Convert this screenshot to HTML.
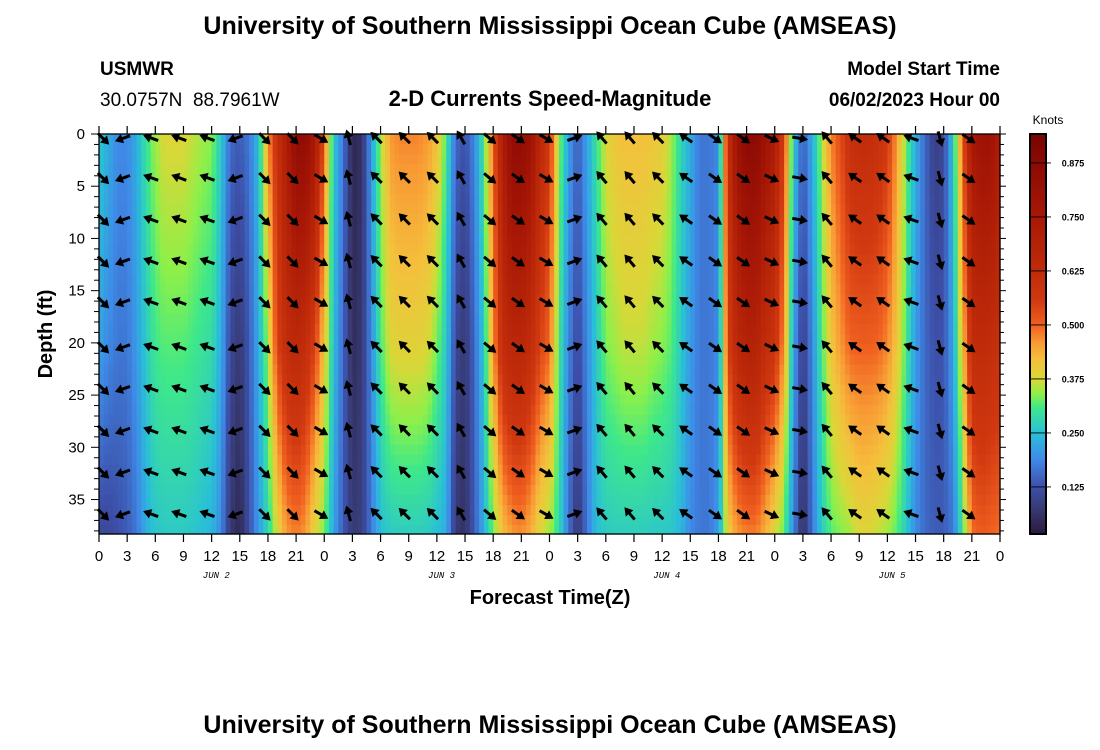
<!DOCTYPE html>
<html><head><meta charset="utf-8">
<style>
body{margin:0;background:#fff;}
svg{display:block;font-family:"Liberation Sans",sans-serif;}
</style></head>
<body>
<svg id="chart" width="1100" height="750" viewBox="0 0 1100 750">
<text x="550" y="34" text-anchor="middle" font-size="25" font-weight="bold">University of Southern Mississippi Ocean Cube (AMSEAS)</text>
<text x="100" y="75" font-size="19" font-weight="bold">USMWR</text>
<text x="100" y="106" font-size="19" xml:space="preserve">30.0757N  88.7961W</text>
<text x="550" y="106" text-anchor="middle" font-size="22" font-weight="bold">2-D Currents Speed-Magnitude</text>
<text x="1000" y="75" text-anchor="end" font-size="19" font-weight="bold">Model Start Time</text>
<text x="1000" y="106" text-anchor="end" font-size="19" font-weight="bold">06/02/2023 Hour 00</text>
<text transform="translate(52,334) rotate(-90)" text-anchor="middle" font-size="20" font-weight="bold">Depth (ft)</text>
<text x="550" y="604" text-anchor="middle" font-size="20" font-weight="bold">Forecast Time(Z)</text>
<text x="1048" y="124" text-anchor="middle" font-size="12">Knots</text>
<text x="550" y="733" text-anchor="middle" font-size="25" font-weight="bold">University of Southern Mississippi Ocean Cube (AMSEAS)</text>
<g id="heat"></g>
<g id="arrows"></g>
<g id="axes"></g>
<g id="cbar"></g>
</svg>
<script>
// hourly speed (knots), hours 0..96, at surface / 20 ft / 38 ft
const hours = Array.from({length:97},(_, i)=>i);
const depthLevels = [0, 20, 38.3];
const speedSurface = [.265,.23,.19,.19,.23,.30,.35,.38,.38,.38,.365,.35,.34,.265,.155,.14,.17,.25,.46,.60,.72,.85,.85,.75,.50,.265,.17,.04,.06,.21,.35,.46,.475,.475,.475,.46,.42,.31,.155,.125,.19,.31,.50,.72,.85,.85,.80,.65,.56,.35,.22,.14,.22,.30,.38,.41,.42,.42,.42,.41,.40,.35,.28,.23,.17,.17,.19,.60,.80,.87,.87,.80,.72,.545,.265,.14,.23,.35,.475,.53,.60,.62,.62,.60,.56,.46,.335,.23,.155,.09,.11,.265,.50,.75,.80,.80,.72];
const speedMid = [.22,.19,.17,.17,.21,.265,.31,.32,.32,.32,.31,.30,.29,.23,.11,.075,.14,.23,.35,.545,.62,.65,.62,.545,.41,.25,.155,.05,.075,.19,.31,.38,.39,.39,.39,.38,.335,.265,.11,.075,.155,.265,.46,.62,.66,.66,.62,.545,.50,.31,.19,.11,.19,.265,.335,.35,.365,.365,.365,.35,.34,.32,.265,.21,.17,.17,.19,.545,.65,.69,.69,.62,.59,.46,.22,.09,.19,.31,.41,.46,.50,.505,.505,.50,.475,.41,.31,.21,.155,.125,.13,.22,.41,.62,.635,.62,.60];
const speedBottom = [.11,.11,.125,.14,.17,.23,.26,.265,.265,.265,.26,.25,.24,.19,.075,.04,.125,.21,.28,.38,.46,.48,.46,.38,.335,.22,.14,.075,.09,.17,.25,.265,.27,.27,.27,.265,.25,.23,.075,.06,.14,.23,.33,.42,.46,.47,.44,.38,.35,.29,.17,.07,.17,.25,.265,.27,.27,.27,.27,.265,.265,.26,.24,.19,.17,.17,.21,.40,.46,.48,.48,.44,.38,.32,.19,.05,.17,.265,.32,.335,.35,.38,.38,.365,.35,.32,.265,.19,.155,.14,.14,.17,.30,.49,.51,.50,.49];
// arrow columns: hour and direction (deg, screen: 0=east/right, 90=down)
const arrowHours = [0.4,2.6,5.6,8.6,11.6,14.6,17.6,20.6,23.6,26.6,29.6,32.6,35.6,38.6,41.6,44.6,47.6,50.6,53.6,56.6,59.6,62.6,65.6,68.6,71.6,74.6,77.6,80.6,83.6,86.6,89.6,92.6];
const arrowDirs = [45,160,200,200,200,160,45,45,30,-105,-135,-135,-135,-120,40,35,30,-20,-130,-130,-135,-145,35,35,25,10,-130,-145,-145,-160,75,35];
const arrowDepths = [0.4,4.2,8.2,12.2,16.1,20.4,24.4,28.4,32.4,36.4];
const xTicks = [0,3,6,9,12,15,18,21,0,3,6,9,12,15,18,21,0,3,6,9,12,15,18,21,0,3,6,9,12,15,18,21,0];
const dayLabels = ["JUN 2","JUN 3","JUN 4","JUN 5"];
const yTicks = [0,5,10,15,20,25,30,35];
const cbTicks = [0.125,0.250,0.375,0.500,0.625,0.750,0.875];

const NS="http://www.w3.org/2000/svg";
const X0=99,X1=1000,Y0=134,Y1=534,HMAX=96,DMAX=38.3,VMIN=0.016,VMAX=0.942;
const xs=h=>X0+(h/HMAX)*(X1-X0);
const ys=d=>Y0+(d/DMAX)*(Y1-Y0);
const stops=[[0.016,[42,26,58]],[0.08,[56,60,120]],[0.125,[61,79,168]],[0.19,[63,138,232]],[0.25,[41,191,216]],[0.31,[62,232,138]],[0.34,[140,240,74]],[0.375,[216,216,56]],[0.42,[244,192,60]],[0.46,[248,154,52]],[0.5,[240,96,32]],[0.56,[208,56,16]],[0.625,[192,44,10]],[0.75,[168,24,6]],[0.875,[140,10,4]],[0.942,[120,4,2]]];
function col(v){
 if(v<=stops[0][0])return `rgb(${stops[0][1].join(',')})`;
 for(let i=1;i<stops.length;i++){if(v<=stops[i][0]){const a=stops[i-1],b=stops[i],t=(v-a[0])/(b[0]-a[0]);
  return `rgb(${a[1].map((c,k)=>Math.round(c+(b[1][k]-c)*t)).join(',')})`;}}
 return `rgb(${stops[stops.length-1][1].join(',')})`;}
function mk(tag,attrs,parent){const e=document.createElementNS(NS,tag);for(const k in attrs)e.setAttribute(k,attrs[k]);parent.appendChild(e);return e;}
function sp(h,d){
 const i=Math.max(0,Math.min(95,Math.floor(h))),f=Math.max(0,Math.min(1,h-i));
 const li=a=>a[i]*(1-f)+a[i+1]*f;
 const s=li(speedSurface),m=li(speedMid),b=li(speedBottom);
 if(d<=depthLevels[1]){const t=d/depthLevels[1];return s*(1-t)+m*t;}
 const t=(d-depthLevels[1])/(depthLevels[2]-depthLevels[1]);return m*(1-t)+b*t;}
const heat=document.getElementById('heat');
const dh=0.5,dd=0.96;
for(let h=0;h<HMAX;h+=dh){for(let d=0;d<DMAX;d+=dd){
 const x=xs(h),y=ys(d),w=xs(Math.min(HMAX,h+dh))-x+0.6,hh=ys(Math.min(DMAX,d+dd))-y+0.6;
 const r=mk('rect',{x:x.toFixed(2),y:y.toFixed(2),width:w.toFixed(2),height:hh.toFixed(2),fill:col(sp(h+dh/2,d+dd/2))},heat);
 
 
}}
const ar=document.getElementById('arrows');
arrowHours.forEach((h,i)=>{arrowDepths.forEach(d=>{
 const g=mk('g',{transform:`translate(${xs(h).toFixed(1)},${ys(d).toFixed(1)}) rotate(${arrowDirs[i]})`},ar);
 
 
 mk('line',{x1:-7,y1:0,x2:3,y2:0,stroke:'#000','stroke-width':3},g);
 mk('polygon',{points:'9,0 1,-5 1,5',fill:'#000'},g);
});});
const ax=document.getElementById('axes');
mk('rect',{x:X0,y:Y0,width:X1-X0,height:Y1-Y0,fill:'none',stroke:'#000','stroke-width':1.3},ax);
xTicks.forEach((t,i)=>{const x=xs(i*3);
 mk('line',{x1:x,y1:Y1,x2:x,y2:Y1+8,stroke:'#000','stroke-width':1.2},ax);
 mk('line',{x1:x,y1:Y0,x2:x,y2:Y0-8,stroke:'#000','stroke-width':1.2},ax);
 const tx=mk('text',{x:x,y:561,'text-anchor':'middle','font-size':15},ax);tx.textContent=t;
 
 
});
dayLabels.forEach((l,i)=>{const tx=mk('text',{x:xs(i*24+12.5),y:578,'text-anchor':'middle','font-size':9,'font-style':'italic','font-family':'Liberation Mono, monospace'},ax);tx.textContent=l;
 
 
});
for(let d=0;d<=38;d++){const y=ys(d);const major=d%5===0;
 mk('line',{x1:X0-(major?8:5),y1:y,x2:X0,y2:y,stroke:'#000','stroke-width':1},ax);
 mk('line',{x1:X1,y1:y,x2:X1+(major?6:4),y2:y,stroke:'#000','stroke-width':1},ax);}
yTicks.forEach(t=>{const tx=mk('text',{x:X0-14,y:ys(t)+5,'text-anchor':'end','font-size':15},ax);tx.textContent=t;
 
 
});
const cb=document.getElementById('cbar');
const CX=1030,CW=16,cy=v=>Y1-(v-VMIN)/(VMAX-VMIN)*(Y1-Y0);
for(let k=0;k<200;k++){const v0=VMIN+(VMAX-VMIN)*k/200,v1=VMIN+(VMAX-VMIN)*(k+1)/200;
 mk('rect',{x:CX,y:cy(v1),width:CW,height:cy(v0)-cy(v1)+0.5,fill:col((v0+v1)/2)},cb);}
mk('rect',{x:CX,y:Y0,width:CW,height:Y1-Y0,fill:'none',stroke:'#000','stroke-width':2},cb);
cbTicks.forEach(t=>{const y=cy(t);
 mk('line',{x1:CX,y1:y,x2:CX+CW+5,y2:y,stroke:'#000','stroke-width':0.8},cb);
 const tx=mk('text',{x:CX+43,y:y+3.5,'text-anchor':'middle','font-size':9,'font-weight':'bold'},cb);tx.textContent=t.toFixed(3);
 
 
});
</script>
</body></html>
